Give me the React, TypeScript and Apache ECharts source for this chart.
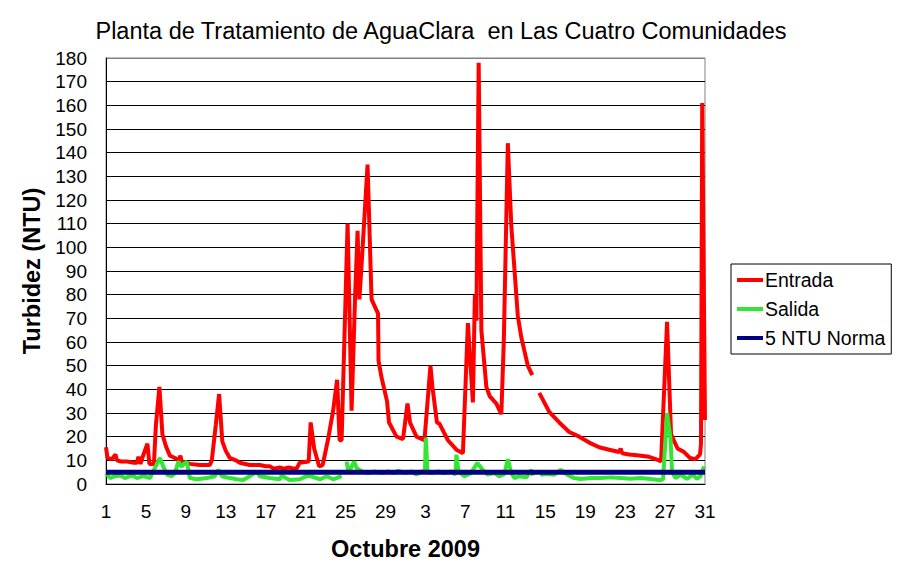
import { useEffect, useRef } from "react";
import * as echarts from "echarts";

// días contados desde el 1 de septiembre (0..60 = 1 sep .. 31 oct)
const xLabels = ["1", "5", "9", "13", "17", "21", "25", "29", "3", "7", "11", "15", "19", "23", "27", "31"];

const entrada: (number | string)[][] = [
  [0.0, 15.5], [0.15, 11], [0.6, 10.5], [0.95, 12.5], [1.1, 10], [1.5, 9.5],
  [2.1, 9.5], [2.8, 9], [3.1, 9], [3.25, 11.5], [3.45, 8.5], [3.8, 13],
  [4.15, 17], [4.35, 8.5], [4.8, 8.5], [5.0, 25], [5.35, 41], [5.65, 21],
  [6.0, 16], [6.4, 12], [6.9, 11], [7.3, 10], [7.45, 12], [7.6, 9],
  [8.1, 9], [8.4, 8.5], [9.4, 8], [10.4, 8], [10.6, 10], [11.0, 25],
  [11.33, 38], [11.65, 18], [12.0, 14], [12.4, 11], [13.0, 10], [13.4, 9],
  [14.4, 8], [15.4, 8], [16.0, 7.5], [16.4, 7.5], [16.8, 6.5], [17.4, 7],
  [17.8, 6.5], [18.3, 7], [18.8, 6.5], [19.1, 6.5], [19.4, 9], [20.3, 9.5],
  [20.5, 26], [20.85, 15], [21.35, 7.5], [21.7, 8], [22.25, 19], [22.75, 31],
  [23.15, 44], [23.4, 18.5], [23.6, 18.5], [24.2, 110], [24.6, 31], [24.95, 79],
  [25.2, 107], [25.38, 78], [25.65, 96], [26.2, 135], [26.6, 78], [27.25, 72],
  [27.3, 52], [27.6, 45], [28.15, 35], [28.35, 26], [29.1, 20], [29.75, 19],
  [30.2, 34], [30.45, 26], [31.1, 20], [31.9, 18.5], [32.5, 50], [32.7, 41],
  [33.15, 26], [33.4, 25.5], [34.25, 18.5], [35.1, 14.5], [35.75, 13], [36.25, 68],
  [36.75, 34.5], [36.95, 80], [37.1, 69], [37.33, 178], [37.6, 65], [38.1, 41],
  [38.45, 37], [39.1, 34], [39.6, 29.5], [39.85, 61], [40.25, 144], [40.6, 109],
  [41.25, 71], [41.6, 62], [42.25, 50], [42.7, 46], [43.0, "-"],
  [43.4, 38.5], [44.4, 30.5], [45.4, 26], [46.4, 22], [47.4, 20], [48.4, 17.5],
  [49.4, 15.5], [50.4, 14.5], [51.4, 13.5], [51.55, 15], [51.7, 13], [52.4, 12.5],
  [53.4, 12], [54.4, 11.5], [55.4, 10], [55.6, 9.5], [56.2, 68.5], [56.6, 21],
  [57.25, 15], [57.9, 13.5], [58.5, 11], [59.05, 10.5], [59.5, 12.5], [59.6, 17],
  [59.72, 161], [60, 27],
];

const salida: (number | string)[][] = [
  [0.0, 4.6], [0.4, 2.5], [0.9, 3.3], [1.4, 3.6], [1.9, 2.5], [2.6, 3.6],
  [3.1, 2.5], [3.75, 3.3], [4.4, 2.5], [4.9, 6.8], [5.4, 11], [5.75, 7.3],
  [6.1, 4], [6.6, 3.3], [6.9, 4.6], [7.25, 9.5], [7.55, 7.3], [7.85, 8.7],
  [8.1, 9.5], [8.4, 2.5], [9.1, 2], [10.1, 2.5], [10.9, 3.3], [11.25, 6.1],
  [11.6, 3.3], [12.4, 2.5], [13.1, 2], [13.75, 1.7], [14.4, 3.3], [15.1, 5.3],
  [15.4, 3.3], [16.4, 2.5], [17.4, 2], [17.6, 3.5], [18.4, 1.7], [19.4, 2],
  [20.1, 3.3], [20.45, 3.3], [21.45, 2], [22.1, 3.3], [22.75, 2], [23.6, 3.3],
  [23.9, "-"],
  [24.1, 9.5], [24.3, 4.6], [24.6, 7.3], [24.85, 9.5], [25.1, 6.8], [25.6, 5.3],
  [26.25, 4.6], [26.9, 5.3], [27.6, 4.6], [28.25, 5.3], [28.9, 4.6], [29.25, 5.7],
  [29.9, 4.6], [30.6, 5.3], [31.1, 4], [31.6, 5.3], [31.95, 5.3], [32.03, 19.5],
  [32.2, 5], [32.6, 4.6], [33.25, 5.3], [33.9, 4.6], [34.55, 5.3], [35.0, 4],
  [35.1, 12.4], [35.3, 5.3], [35.9, 3.3], [36.55, 4.6], [37.2, 8.9], [37.7, 6.1],
  [38.2, 4], [38.9, 4.6], [39.4, 3.3], [39.9, 4.2], [40.25, 10.5], [40.6, 4.6],
  [40.9, 2.5], [41.4, 3.3], [42.1, 2.8], [42.6, 6], [42.75, 3.5],
  [43.0, "-"],
  [43.5, 3.9], [44.2, 4.2], [44.9, 3.9], [45.55, 6], [46.2, 3.9], [46.9, 2.5],
  [47.55, 2.1], [48.55, 2.5], [49.55, 2.5], [50.55, 2.8], [51.55, 2.5], [52.55, 2.2],
  [53.55, 2.5], [54.55, 2.1], [55.55, 1.6], [55.8, 2.1], [56.2, 30], [56.55, 19],
  [56.7, 5], [57.05, 2.5], [57.55, 3.9], [58.2, 2.2], [58.75, 3.9], [59.2, 2.2],
  [59.55, 3.3], [59.9, 7.4],
];

const norma = [[0, 5], [60, 5]];

const FONT = '"Liberation Sans", Arial, sans-serif';

export default function App() {
  const chartRef = useRef<HTMLDivElement>(null);

  useEffect(() => {
    document.body.style.margin = "0";
    if (!chartRef.current) return;
    const chart = echarts.init(chartRef.current, null, { renderer: "svg" });

    // la última línea (180) es el borde gris del área de trazado
    const splitColors = Array.from({ length: 19 }, (_, i) => (i === 18 ? "#808080" : "#000000"));

    const option: echarts.EChartsOption = {
      animation: false,
      backgroundColor: "#ffffff",
      title: {
        text: "Planta de Tratamiento de AguaClara  en Las Cuatro Comunidades",
        left: 436,
        top: 14,
        textAlign: "center",
        textStyle: { fontFamily: FONT, fontSize: 23.5, fontWeight: "normal", color: "#000" },
      },
      legend: {
        orient: "vertical",
        left: 731,
        top: 264,
        padding: [6, 6, 6, 6],
        itemGap: 9,
        itemWidth: 26,
        itemHeight: 4,
        itemStyle: { borderWidth: 0 },
        icon: "rect",
        borderColor: "#000",
        borderWidth: 1,
        textStyle: { fontFamily: FONT, fontSize: 19.5, color: "#000", lineHeight: 20, padding: [0, 0, 0, -3] },
        data: ["Entrada", "Salida", "5 NTU Norma"],
      },
      grid: {
        left: 106,
        right: 196,
        top: 58,
        bottom: 95,
        show: true,
        borderColor: "#808080",
        borderWidth: 1,
      },
      xAxis: {
        type: "value",
        min: 0,
        max: 60,
        interval: 4,
        name: "Octubre 2009",
        nameLocation: "middle",
        nameGap: 53,
        nameTextStyle: { fontFamily: FONT, fontSize: 23.5, fontWeight: "bold", color: "#000" },
        axisLine: { lineStyle: { color: "#000", width: 1 } },
        axisTick: { show: false },
        splitLine: { show: false },
        axisLabel: {
          margin: 18,
          fontFamily: FONT,
          fontSize: 19,
          color: "#000",
          formatter: (v: number) => xLabels[Math.round(v / 4)] ?? "",
        },
      },
      yAxis: {
        type: "value",
        min: 0,
        max: 180,
        interval: 10,
        name: "Turbidez (NTU)",
        nameLocation: "middle",
        nameGap: 53,
        nameRotate: 90,
        nameTextStyle: { fontFamily: FONT, fontSize: 23.5, fontWeight: "bold", color: "#000" },
        axisLine: { show: true, lineStyle: { color: "#000", width: 1 } },
        axisTick: { show: false },
        splitLine: { lineStyle: { color: splitColors, width: 1 } },
        axisLabel: { margin: 19, fontFamily: FONT, fontSize: 19, color: "#000" },
      },
      series: [
        {
          name: "Entrada",
          type: "line",
          data: entrada,
          showSymbol: false,
          connectNulls: false,
          color: "#ff0000",
          lineStyle: { color: "#ff0000", width: 4 },
        },
        {
          name: "Salida",
          type: "line",
          data: salida,
          showSymbol: false,
          connectNulls: false,
          color: "#33e633",
          lineStyle: { color: "#33e633", width: 4 },
        },
        {
          name: "5 NTU Norma",
          type: "line",
          data: norma,
          showSymbol: false,
          color: "#000080",
          lineStyle: { color: "#000080", width: 5 },
        },
      ],
    };
    chart.setOption(option);

    const handleResize = () => chart.resize();
    window.addEventListener("resize", handleResize);
    return () => {
      window.removeEventListener("resize", handleResize);
      chart.dispose();
    };
  }, []);

  return <div ref={chartRef} style={{ width: "901px", height: "579px" }} />;
}
